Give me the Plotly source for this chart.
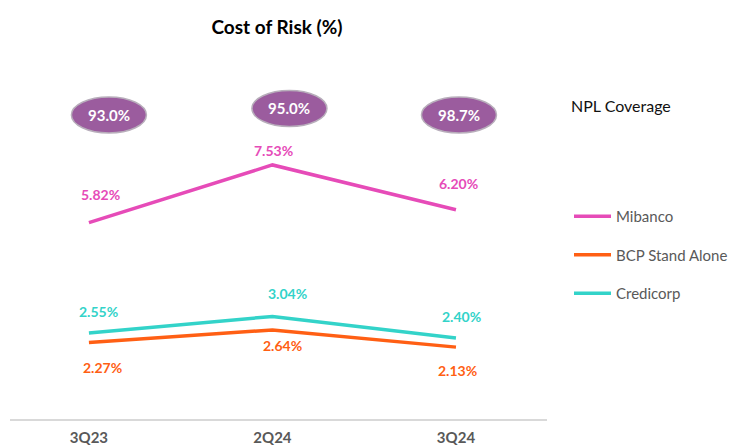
import plotly.graph_objects as go

quarters = ["3Q23", "2Q24", "3Q24"]
mibanco = [5.82, 7.53, 6.20]
bcp = [2.27, 2.64, 2.13]
credicorp = [2.55, 3.04, 2.40]
npl_coverage = [93.0, 95.0, 98.7]

C_MIB = "#E64BB8"
C_BCP = "#FF5F14"
C_CRE = "#33D3C9"
FONT = "Lato"

# plot geometry in page pixels (body margin removed)
W, H = 732, 447
L, R, T, B = 10, 185, 60, 28
PW, PH = W - L - R, H - T - B


def pxx(p):
    return (p - L) / PW


def pxy(p):
    return 1 - (p - T) / PH


fig = go.Figure()
xi = list(range(len(quarters)))
for name, vals, col in [("Mibanco", mibanco, C_MIB), ("BCP Stand Alone", bcp, C_BCP), ("Credicorp", credicorp, C_CRE)]:
    fig.add_trace(go.Scatter(x=xi, y=vals, mode="lines", name=name, legendgroup=name,
                             line=dict(color=col, width=3.5), hoverinfo="skip"))

# data label offsets (pixels)
offsets = {
    "Mibanco": [(12, 28), (1, 14), (3, 26)],
    "Credicorp": [(10, 21), (15, 23), (6, 22)],
    "BCP Stand Alone": [(14, -25), (10, -16), (2, -23)],
}
for name, vals, col in [("Mibanco", mibanco, C_MIB), ("Credicorp", credicorp, C_CRE), ("BCP Stand Alone", bcp, C_BCP)]:
    for i, v in enumerate(vals):
        dx, dy = offsets[name][i]
        fig.add_annotation(x=i, y=v, text=f"{v:.2f}%", showarrow=False, xshift=dx, yshift=dy,
                           xanchor="center", yanchor="middle",
                           font=dict(family=FONT, size=14, color=col, weight="bold"))

# NPL coverage bubbles
bub_dx = [20, 17, 3]
bub_py = [115, 108.5, 115]
for i, v in enumerate(npl_coverage):
    py = pxy(bub_py[i])
    fig.add_shape(type="circle", xref="x", yref="paper", xsizemode="pixel", ysizemode="pixel",
                  xanchor=i, yanchor=py, x0=bub_dx[i] - 37.5, x1=bub_dx[i] + 37.5, y0=-18, y1=18,
                  fillcolor="#9B5C9E", line=dict(color="#B8AEBB", width=1.5))
    fig.add_annotation(x=i, y=py, yref="paper", text=f"{v:.1f}%", showarrow=False, xshift=bub_dx[i],
                       xanchor="center", yanchor="middle",
                       font=dict(family=FONT, size=15, color="white", weight="bold"))

fig.add_annotation(xref="paper", yref="paper", x=pxx(569), y=pxy(105),
                   xanchor="left", yanchor="middle", text="NPL Coverage", showarrow=False,
                   font=dict(family=FONT, size=16, color="#111111"))

fig.update_layout(
    width=W, height=H,
    margin=dict(l=L, r=R, t=T, b=B, autoexpand=False),
    paper_bgcolor="white", plot_bgcolor="white",
    title=dict(text="<b>Cost of Risk (%)</b>", x=277 / W, xanchor="center",
               y=1 - 27 / H, yanchor="middle",
               font=dict(family=FONT, size=19, color="black")),
    xaxis=dict(range=[-0.43, 2.496], tickvals=xi, ticktext=quarters, showgrid=False, zeroline=False,
               automargin=False,
               showline=True, linecolor="#D9D9D9", linewidth=1.5, ticks="", ticklabelstandoff=4,
               tickfont=dict(family=FONT, size=15, color="#595959", weight="bold")),
    yaxis=dict(range=[0, 10.64], visible=False, automargin=False),
    showlegend=True,
    legend=dict(xref="container", yref="container", x=569 / W, y=1 - 200 / H, xanchor="left", yanchor="top",
                traceorder="grouped", tracegroupgap=16, itemwidth=37, bgcolor="rgba(0,0,0,0)",
                font=dict(family=FONT, size=15, color="#595959")),
)

fig.write_html("out.html", config={"displayModeBar": False},
               post_script="document.body.style.margin='0';document.body.style.overflow='hidden';")
